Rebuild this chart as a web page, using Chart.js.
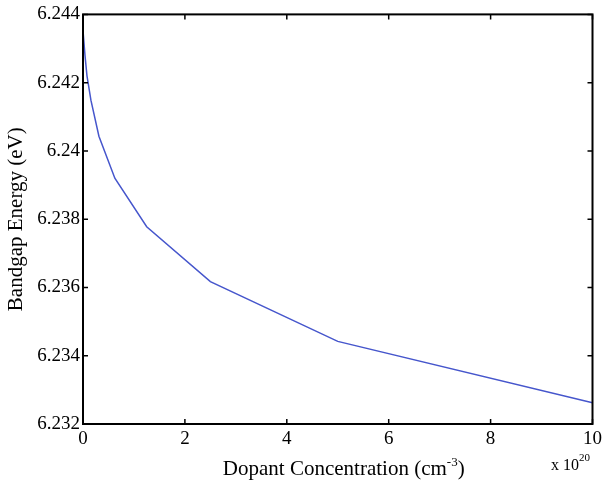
<!DOCTYPE html>
<html>
<head>
<meta charset="utf-8">
<script src="https://cdn.jsdelivr.net/npm/chart.js@4.4.0/dist/chart.umd.min.js"></script>
<style>
  html, body { margin: 0; padding: 0; background: #fff; }
  #wrap { width: 606px; height: 483px; }
</style>
</head>
<body>
<div id="wrap"><canvas id="bandgapChart"></canvas></div>
<script>
// Data (x in units of 10^20 cm^-3, y in eV)
const concentration = [0, 0.0390625, 0.078125, 0.15625, 0.3125, 0.625, 1.25, 2.5, 5, 10];
const bandgap = [6.24353, 6.2428, 6.2422, 6.24148, 6.24043, 6.2392, 6.23778, 6.23617, 6.23442, 6.23262];
const xTicks = [0, 2, 4, 6, 8, 10];
const yTicks = [6.232, 6.234, 6.236, 6.238, 6.24, 6.242, 6.244];

const serif = '"Liberation Serif", "Times New Roman", serif';

// Box, inward ticks on all four sides, x title with superscript, exponent note
const matlabFrame = {
    id: 'matlabFrame',
    afterDraw(chart) {
        const ctx = chart.ctx;
        const a = chart.chartArea;
        const xs = chart.scales.x;
        const ys = chart.scales.y;
        const len = 5;
        ctx.save();
        ctx.strokeStyle = '#000';
        ctx.lineWidth = 2;
        ctx.strokeRect(a.left, a.top, a.right - a.left, a.bottom - a.top);
        ctx.lineWidth = 1.5;
        ctx.beginPath();
        xTicks.forEach(v => {
            const px = xs.getPixelForValue(v);
            ctx.moveTo(px, a.bottom); ctx.lineTo(px, a.bottom - len);
            ctx.moveTo(px, a.top); ctx.lineTo(px, a.top + len);
        });
        yTicks.forEach(v => {
            const py = ys.getPixelForValue(v);
            ctx.moveTo(a.left, py); ctx.lineTo(a.left + len, py);
            ctx.moveTo(a.right, py); ctx.lineTo(a.right - len, py);
        });
        ctx.stroke();

        // x axis title: "Dopant Concentration (cm-3)" with superscript
        ctx.fillStyle = '#000';
        ctx.textBaseline = 'alphabetic';
        const main = 'Dopant Concentration (cm';
        const sup = '-3';
        const tail = ')';
        ctx.font = '21px ' + serif;
        const wMain = ctx.measureText(main).width;
        const wTail = ctx.measureText(tail).width;
        ctx.font = '13px ' + serif;
        const wSup = ctx.measureText(sup).width;
        let x = (a.left + a.right) / 2 + 6 - (wMain + wSup + wTail) / 2;
        const y = 475;
        ctx.font = '21px ' + serif;
        ctx.fillText(main, x, y);
        x += wMain;
        ctx.font = '13px ' + serif;
        ctx.fillText(sup, x, y - 9);
        x += wSup;
        ctx.font = '21px ' + serif;
        ctx.fillText(tail, x, y);

        // exponent note "x 10^20"
        ctx.font = '16px ' + serif;
        ctx.fillText('x 10', 551, 470);
        const w10 = ctx.measureText('x 10').width;
        ctx.font = '11px ' + serif;
        ctx.fillText('20', 551 + w10, 461);
        ctx.restore();
    }
};

const ctxBandgap = document.getElementById('bandgapChart').getContext('2d');
const bandgapChart = new Chart(ctxBandgap, {
    type: 'line',
    data: {
        datasets: [{
            label: 'Bandgap Energy',
            data: concentration.map((c, i) => ({ x: c, y: bandgap[i] })),
            borderColor: '#4656cc',
            borderWidth: 1.5,
            pointRadius: 0,
            tension: 0,
            fill: false
        }]
    },
    options: {
        responsive: true,
        maintainAspectRatio: false,
        animation: false,
        layout: { padding: { top: 14, right: 10, left: 0, bottom: 0 } },
        plugins: {
            legend: { display: false },
            tooltip: { enabled: false }
        },
        scales: {
            x: {
                type: 'linear',
                min: 0,
                max: 10,
                afterBuildTicks: s => { s.ticks = xTicks.map(v => ({ value: v })); },
                afterFit: s => { s.height = 59; },
                grid: { display: false, drawTicks: false },
                border: { display: false },
                ticks: {
                    color: '#000',
                    padding: 4,
                    font: { family: serif, size: 19 },
                    callback: v => String(v)
                }
            },
            y: {
                type: 'linear',
                min: 6.232,
                max: 6.244,
                afterBuildTicks: s => { s.ticks = yTicks.map(v => ({ value: v })); },
                afterFit: s => { s.width = 83; },
                grid: { display: false, drawTicks: false },
                border: { display: false },
                ticks: {
                    color: '#000',
                    padding: 3,
                    font: { family: serif, size: 19 },
                    callback: v => String(v)
                },
                title: {
                    display: true,
                    text: 'Bandgap Energy (eV)',
                    color: '#000',
                    padding: { top: 4, bottom: 0 },
                    font: { family: serif, size: 21 }
                }
            }
        }
    },
    plugins: [matlabFrame]
});
</script>
</body>
</html>
